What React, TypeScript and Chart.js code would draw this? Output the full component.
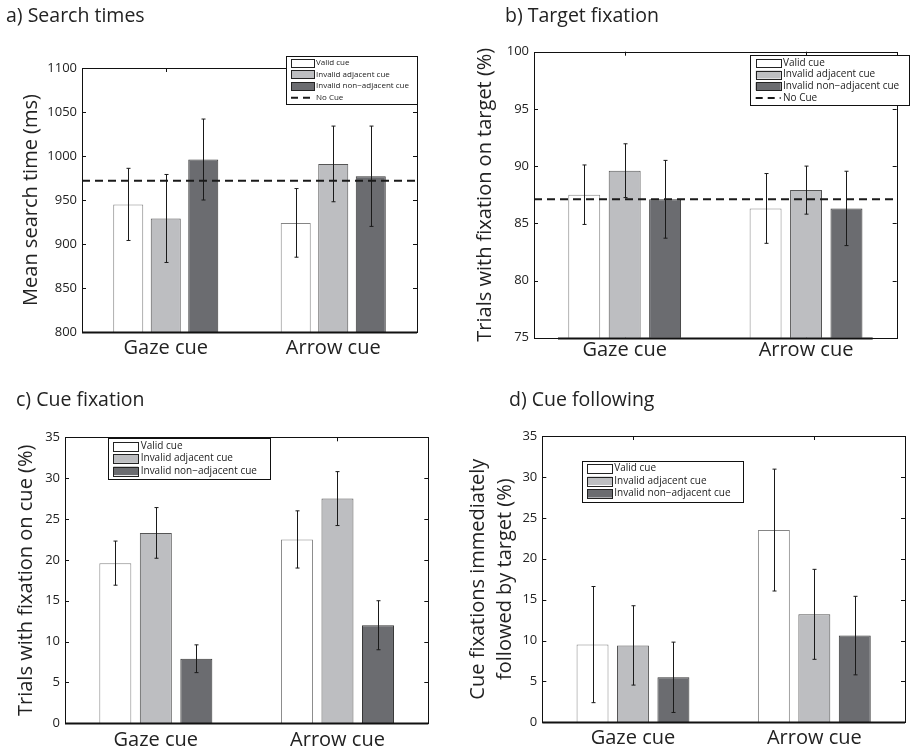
import React, { useEffect, useRef } from "react";
import { Chart, registerables } from "chart.js";

Chart.register(...registerables);
Chart.defaults.font.family = "'Open Sans', sans-serif";

// ---------- data ----------
const categories = ["Gaze cue", "Arrow cue"];
const seriesNames = ["Valid cue", "Invalid adjacent cue", "Invalid non\u2212adjacent cue"];
const noCueLabel = "No Cue";

// a) Search times (ms)
const searchValid = [945, 924];
const searchAdjacent = [929, 991];
const searchNonAdjacent = [996, 977];
const searchValidErr = [41, 39];
const searchAdjacentErr = [50, 43];
const searchNonAdjacentErr = [46, 57];
const searchNoCue = 972;

// b) Target fixation (%)
const targetValid = [87.5, 86.3];
const targetAdjacent = [89.6, 87.9];
const targetNonAdjacent = [87.1, 86.3];
const targetValidErr = [2.6, 3.05];
const targetAdjacentErr = [2.35, 2.1];
const targetNonAdjacentErr = [3.4, 3.25];
const targetNoCue = 87.1;

// c) Cue fixation (%)
const cueFixValid = [19.6, 22.5];
const cueFixAdjacent = [23.3, 27.5];
const cueFixNonAdjacent = [7.9, 12.0];
const cueFixValidErr = [2.7, 3.5];
const cueFixAdjacentErr = [3.1, 3.3];
const cueFixNonAdjacentErr = [1.7, 3.0];

// d) Cue following (%)
const followValid = [9.5, 23.5];
const followAdjacent = [9.4, 13.2];
const followNonAdjacent = [5.5, 10.6];
const followValidErr = [7.1, 7.45];
const followAdjacentErr = [4.85, 5.5];
const followNonAdjacentErr = [4.3, 4.8];

// axis ranges [min, max, step]
const searchRange = [800, 1100, 50];
const targetRange = [75, 100, 5];
const cueFixRange = [0, 35, 5];
const followRange = [0, 35, 5];

// ---------- styles ----------
const fills = ["#ffffff", "#bdbec1", "#6b6c70"];
const borders = ["#858585", "#555555", "#363636"];
const FONT = "'Open Sans', sans-serif";

const decorPlugin = {
  id: "decor",
  beforeDatasetsDraw(chart: any) {
    const { ctx, chartArea: ca, scales } = chart;
    const y = scales.y, x = scales.x;
    ctx.save();
    ctx.strokeStyle = "#111";
    ctx.lineWidth = 1;
    ctx.beginPath();
    y.ticks.forEach((t: any) => {
      const py = Math.round(y.getPixelForValue(t.value)) + 0.5;
      ctx.moveTo(ca.left, py); ctx.lineTo(ca.left + 4, py);
      ctx.moveTo(ca.right, py); ctx.lineTo(ca.right - 4, py);
    });
    categories.forEach((_c, i) => {
      const px = Math.round(x.getPixelForValue(i)) + 0.5;
      ctx.moveTo(px, ca.top); ctx.lineTo(px, ca.top + 4);
      ctx.moveTo(px, ca.bottom); ctx.lineTo(px, ca.bottom - 4);
    });
    ctx.stroke();
    ctx.restore();
  },
  afterDatasetsDraw(chart: any, _a: any, o: any) {
    const { ctx, chartArea: ca, scales } = chart;
    const y = scales.y;
    ctx.save();
    // no-cue dashed line
    if (o.noCue != null) {
      const py = y.getPixelForValue(o.noCue);
      ctx.strokeStyle = "#1a1a1a";
      ctx.lineWidth = 2;
      ctx.setLineDash([8, 5]);
      ctx.beginPath();
      ctx.moveTo(ca.left, py);
      ctx.lineTo(ca.right, py);
      ctx.stroke();
      ctx.setLineDash([]);
    }
    // error bars
    ctx.strokeStyle = "#1a1a1a";
    ctx.lineWidth = 1;
    chart.data.datasets.forEach((ds: any, di: number) => {
      const meta = chart.getDatasetMeta(di);
      meta.data.forEach((bar: any, i: number) => {
        const v = ds.data[i], e = ds.errors[i];
        const px = Math.round(bar.x) + 0.5;
        const top = y.getPixelForValue(v + e);
        const bot = y.getPixelForValue(v - e);
        ctx.beginPath();
        ctx.moveTo(px, top); ctx.lineTo(px, bot);
        ctx.moveTo(px - 2, top); ctx.lineTo(px + 2, top);
        ctx.moveTo(px - 2, bot); ctx.lineTo(px + 2, bot);
        ctx.stroke();
      });
    });
    // box
    ctx.strokeStyle = "#111";
    ctx.lineWidth = 1;
    const l = Math.round(ca.left) + 0.5, r = Math.round(ca.right) + 0.5;
    const t = Math.round(ca.top) + 0.5, b = Math.round(ca.bottom) + 0.5;
    ctx.strokeRect(l, t, r - l, b - t);
    ctx.lineWidth = 2;
    ctx.beginPath();
    ctx.moveTo(ca.left + o.baseInset, b);
    ctx.lineTo(ca.right - o.baseInset, b);
    ctx.stroke();
    // legend
    const L = o.legend;
    ctx.fillStyle = "#fff";
    ctx.fillRect(L.x, L.y, L.w, L.h);
    ctx.lineWidth = 1;
    ctx.strokeStyle = "#111";
    ctx.strokeRect(Math.round(L.x) + 0.5, Math.round(L.y) + 0.5, Math.round(L.w), Math.round(L.h));
    ctx.font = `${L.font}px ${FONT}`;
    ctx.textBaseline = "middle";
    ctx.textAlign = "left";
    chart.data.datasets.forEach((ds: any, i: number) => {
      const cy = L.y + L.firstRow + i * L.rowH;
      ctx.fillStyle = ds.backgroundColor;
      ctx.fillRect(L.x + L.swX, cy - L.swH / 2, L.swW, L.swH);
      ctx.strokeStyle = "#222";
      ctx.strokeRect(Math.round(L.x + L.swX) + 0.5, Math.round(cy - L.swH / 2) + 0.5, Math.round(L.swW), Math.round(L.swH));
      ctx.fillStyle = "#222";
      ctx.fillText(ds.label, L.x + L.textX, cy);
    });
    if (o.noCue != null) {
      const cy = L.y + L.firstRow + 3 * L.rowH;
      ctx.strokeStyle = "#1a1a1a";
      ctx.lineWidth = 2;
      ctx.setLineDash([7, 5]);
      ctx.beginPath();
      ctx.moveTo(L.x + L.swX, cy);
      ctx.lineTo(L.x + L.swX + L.swW, cy);
      ctx.stroke();
      ctx.setLineDash([]);
      ctx.fillStyle = "#222";
      ctx.fillText(noCueLabel, L.x + L.textX, cy);
    }
    // panel title
    ctx.font = `19.5px ${FONT}`;
    ctx.fillStyle = "#222";
    ctx.textBaseline = "middle";
    ctx.fillText(o.title, o.titleX, o.titleY);
    ctx.restore();
  },
};

type Spec = {
  left: number; top: number; w: number; h: number;
  area: { l: number; r: number; t: number; b: number };
  range: number[];
  values: number[][];
  errors: number[][];
  noCue: number | null;
  title: string; titleX: number; titleY: number;
  yTitle: string | string[]; yTitlePad: number; yTitleLH: number;
  xPad: number; cp: number; bp: number; baseInset: number;
  legend: any;
};

const specs: Spec[] = [
  {
    left: 0, top: 0, w: 455, h: 380,
    area: { l: 82, r: 417, t: 68, b: 332 },
    range: searchRange,
    values: [searchValid, searchAdjacent, searchNonAdjacent],
    errors: [searchValidErr, searchAdjacentErr, searchNonAdjacentErr],
    noCue: searchNoCue,
    title: "a) Search times", titleX: 6, titleY: 16,
    yTitle: "Mean search time (ms)", yTitlePad: 19.7, yTitleLH: 1.2,
    xPad: 4, cp: 0.672, bp: 0.8, baseInset: 0,
    legend: { x: 286, y: 56, w: 131, h: 48, font: 8, firstRow: 6.7, rowH: 11.7, swX: 5, swW: 23, swH: 8, textX: 30 },
  },
  {
    left: 455, top: 0, w: 455, h: 380,
    area: { l: 79, r: 441.7, t: 51.7, b: 337.7 },
    range: targetRange,
    values: [targetValid, targetAdjacent, targetNonAdjacent],
    errors: [targetValidErr, targetAdjacentErr, targetNonAdjacentErr],
    noCue: targetNoCue,
    title: "b) Target fixation", titleX: 50, titleY: 16,
    yTitle: "Trials with fixation on target (%)", yTitlePad: 18, yTitleLH: 1.2,
    xPad: 1, cp: 0.669, bp: 0.79, baseInset: 24,
    legend: { x: 295, y: 55, w: 159, h: 50, font: 10, firstRow: 7.7, rowH: 11.8, swX: 5.7, swW: 25, swH: 8, textX: 33 },
  },
  {
    left: 0, top: 380, w: 455, h: 373,
    area: { l: 65, r: 428.3, t: 57.3, b: 343.3 },
    range: cueFixRange,
    values: [cueFixValid, cueFixAdjacent, cueFixNonAdjacent],
    errors: [cueFixValidErr, cueFixAdjacentErr, cueFixNonAdjacentErr],
    noCue: null,
    title: "c) Cue fixation", titleX: 16, titleY: 20,
    yTitle: "Trials with fixation on cue (%)", yTitlePad: 14.7, yTitleLH: 1.2,
    xPad: 4.7, cp: 0.669, bp: 0.79, baseInset: 0,
    legend: { x: 108.3, y: 58.3, w: 162, h: 40.7, font: 10, firstRow: 8, rowH: 12.3, swX: 5, swW: 25, swH: 8.5, textX: 32.4 },
  },
  {
    left: 455, top: 380, w: 455, h: 373,
    area: { l: 87.3, r: 450, t: 56, b: 342.3 },
    range: followRange,
    values: [followValid, followAdjacent, followNonAdjacent],
    errors: [followValidErr, followAdjacentErr, followNonAdjacentErr],
    noCue: null,
    title: "d) Cue following", titleX: 54, titleY: 20.7,
    yTitle: ["Cue fixations immediately", "followed by target (%)"], yTitlePad: 9.5, yTitleLH: 1.35,
    xPad: 3.7, cp: 0.669, bp: 0.79, baseInset: 0,
    legend: { x: 127.3, y: 80.7, w: 161, h: 41.3, font: 10, firstRow: 7.6, rowH: 12.5, swX: 5, swW: 25, swH: 8.5, textX: 32 },
  },
];

function Panel({ s }: { s: Spec }) {
  const ref = useRef<HTMLCanvasElement>(null);
  useEffect(() => {
    if (!ref.current) return;
    const xh = s.h - s.area.b;
    const chart = new Chart(ref.current, {
      type: "bar",
      data: {
        labels: categories,
        datasets: s.values.map((vals, i) => ({
          label: seriesNames[i],
          data: vals,
          errors: s.errors[i],
          backgroundColor: fills[i],
          borderColor: borders[i],
          borderWidth: 1,
          categoryPercentage: s.cp,
          barPercentage: s.bp,
        })) as any,
      },
      options: {
        animation: false,
        responsive: false,
        maintainAspectRatio: false,
        layout: { padding: { left: 0, top: s.area.t, right: s.w - s.area.r, bottom: 0 } },
        plugins: {
          legend: { display: false },
          tooltip: { enabled: false },
          decor: {
            noCue: s.noCue, legend: s.legend, title: s.title, titleX: s.titleX, titleY: s.titleY, baseInset: s.baseInset,
          },
        } as any,
        scales: {
          x: {
            grid: { display: false, drawTicks: false, tickLength: 0 },
            border: { display: false },
            ticks: { color: "#222", font: { size: 20 }, padding: s.xPad, maxRotation: 0 },
            afterFit: (sc: any) => { sc.height = xh; },
          },
          y: {
            min: s.range[0],
            max: s.range[1],
            grid: { display: false, drawTicks: false, tickLength: 0 },
            border: { display: false },
            ticks: {
              stepSize: s.range[2],
              color: "#222",
              font: { size: 13 },
              padding: 5,
              callback: (v: any) => String(v),
            },
            title: {
              display: true,
              text: s.yTitle,
              color: "#222",
              font: { size: 20, lineHeight: s.yTitleLH },
              padding: { top: s.yTitlePad, bottom: 0 },
            },
            afterFit: (sc: any) => { sc.width = s.area.l; },
          },
        },
      },
      plugins: [decorPlugin],
    });
    return () => chart.destroy();
  }, [s]);
  return (
    <canvas
      ref={ref}
      width={s.w}
      height={s.h}
      style={{ position: "absolute", left: s.left, top: s.top, width: s.w, height: s.h }}
    />
  );
}

export default function App() {
  return (
    <div style={{ position: "absolute", left: 0, top: 0, width: 910, height: 753, background: "#fff", overflow: "hidden" }}>
      {specs.map((s, i) => (
        <Panel key={i} s={s} />
      ))}
    </div>
  );
}
